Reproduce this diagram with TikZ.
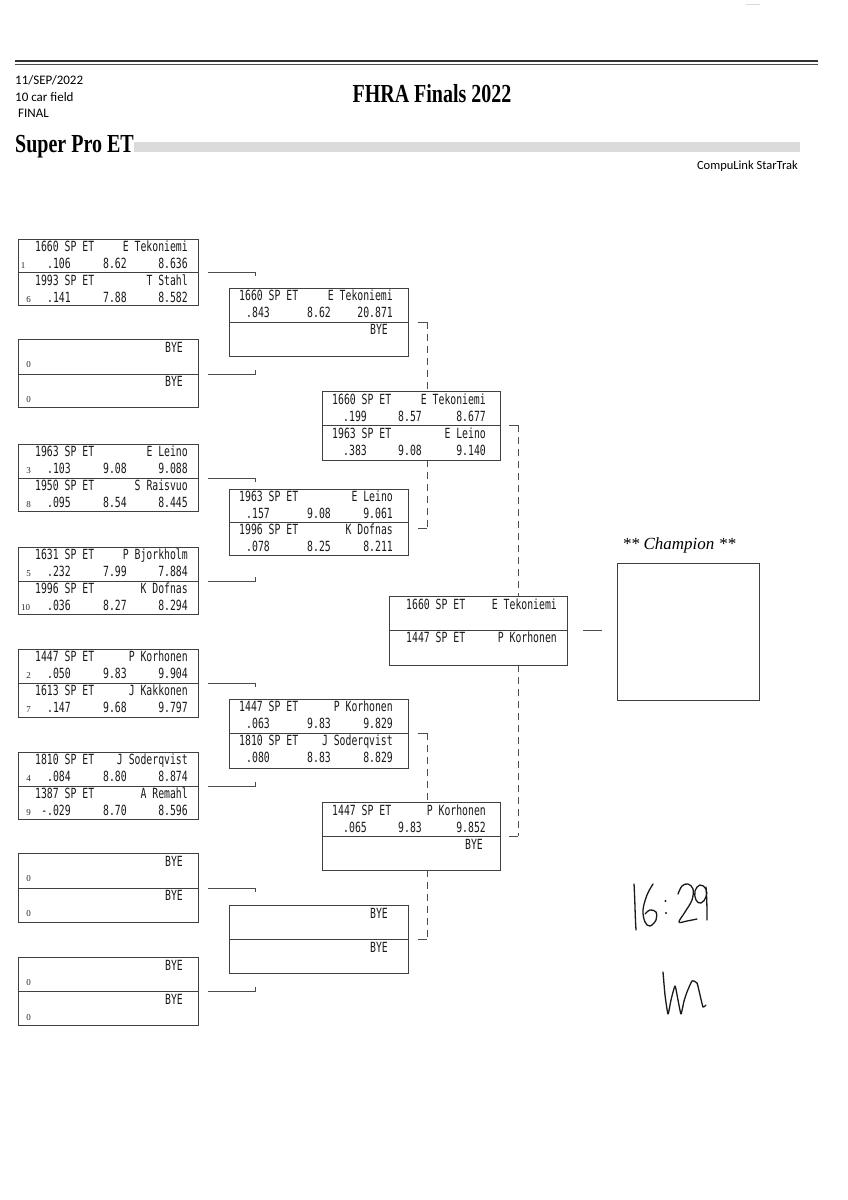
\documentclass[tikz,border=0pt]{standalone}
\usepackage{graphicx}
\usepackage{fontspec}
\setmainfont{Liberation Serif}
\newfontfamily\monof[FakeStretch=0.7]{DejaVu Sans Mono}
\newfontfamily\hdrf{Carlito}
\newfontfamily\seedf{Liberation Serif}
\tikzset{
  bx/.style={draw=black!75, line width=0.9pt, fill=white, inner sep=0pt, outer sep=0pt},
  dv/.style={draw=black!75, line width=0.9pt},
  cn/.style={draw=black!70, line width=0.8pt},
  dcn/.style={draw=black!70, line width=0.8pt, dash pattern=on 7pt off 5pt},
  tx/.style={font=\monof\fontsize{14}{14}\selectfont, text=black!90, inner sep=0pt},
  sd/.style={font=\seedf\fontsize{9}{9}\selectfont, text=black!85, inner sep=0pt, anchor=base},
  hd/.style={font=\hdrf\fontsize{13}{13}\selectfont, text=black, inner sep=0pt},
  hw/.style={draw=black!90, line width=1.3pt, line cap=round, line join=round},
}
\newcommand\ebox[6]{%
  \node[bx, anchor=north west, minimum width={(#4-#2)*1pt}, minimum height={(#5-#3)*1pt}] (#1) at (#2,#3) {};
  \coordinate (#1m) at (#4,#6);
  \draw[dv] (#1.west |- #1m) -- (#1m);}
\newcommand\lineA[6]{%
  \node[tx,anchor=base west] (#1c) at (#3,#2) {#5};
  \node[tx,anchor=base east] (#1n) at (#4,#2) {#6};}
\newcommand\lineB[8]{%
  \node[tx,anchor=base east] (#1r) at (#3,#2) {#6};
  \node[tx,anchor=base east] (#1e) at (#4,#2) {#7};
  \node[tx,anchor=base east] (#1t) at (#5,#2) {#8};}
\newcommand\byeat[3]{\node[tx,anchor=base east] (#1) at (#2,#3) {BYE};}
\newcommand\seedat[4]{\node[sd] (#1) at (#2,#3) {#4};}
\newcommand\oA[4]{\lineA{#1}{#2}{35}{188}{#3}{#4}}
\newcommand\oB[5]{\lineB{#1}{#2}{71}{127}{188}{#3}{#4}{#5}}
\newcommand\tA[4]{\lineA{#1}{#2}{239}{393}{#3}{#4}}
\newcommand\tB[5]{\lineB{#1}{#2}{270}{331}{393}{#3}{#4}{#5}}
\newcommand\hA[4]{\lineA{#1}{#2}{332}{486}{#3}{#4}}
\newcommand\hB[5]{\lineB{#1}{#2}{367}{422}{486}{#3}{#4}{#5}}
\newcommand\cdn[1]{\draw[cn] ([xshift=10pt]#1m) -- ++(47,0) -- ++(0,4);}
\newcommand\cupp[1]{\draw[cn] ([xshift=10pt]#1m) -- ++(47,0) -- ++(0,-4);}
\begin{document}
\begin{tikzpicture}[x=1pt,y=-1pt]
\useasboundingbox (0,0) rectangle (848,1200);
\fill[white] (0,0) rectangle (848,1200);
% header
\draw[black!15, line width=0.6pt] (746,4) -- (760,4);
\draw[black!80, line width=1.8pt] (15,61) -- (818,61);
\draw[black!70, line width=0.6pt] (15,64) -- (818,64);
\node[hd, anchor=base west] (date) at (15,84) {11/SEP/2022};
\node[hd, anchor=base west] (field) at (15,101.5) {10 car field};
\node[hd, anchor=base west] (fin0) at (18,117) {FINAL};
\node[font=\bfseries\fontsize{20}{20}\selectfont, anchor=base, inner sep=0pt] (title) at (432,102) {\scalebox{1}[1.3]{FHRA Finals 2022}};
\node[font=\bfseries\fontsize{20}{20}\selectfont, anchor=base west, inner sep=0pt] (cls) at (15,152) {\scalebox{1}[1.3]{Super Pro ET}};
\fill[black!14] (134,142) rectangle (800,152);
\node[font=\hdrf\fontsize{12.5}{12.5}\selectfont, anchor=base east, inner sep=0pt] (soft) at (798,169) {CompuLink StarTrak};
% column 1 boxes
\ebox{b1}{18}{239}{198}{305}{272}
\oA{b1a}{251}{1660 SP ET}{E Tekoniemi}
\seedat{b1s}{23}{268}{1}\oB{b1b}{268}{.106}{8.62}{8.636}
\oA{b1c}{285}{1993 SP ET}{T Stahl}
\seedat{b1t}{28.5}{302}{6}\oB{b1d}{302}{.141}{7.88}{8.582}
\ebox{b2}{18}{339}{198}{407}{374}
\byeat{b2a}{183}{352}\seedat{b2s}{28.5}{367}{0}
\byeat{b2b}{183}{386}\seedat{b2t}{28.5}{402}{0}
\ebox{b3}{18}{444}{198}{511}{478}
\oA{b3a}{456}{1963 SP ET}{E Leino}
\seedat{b3s}{28.5}{473}{3}\oB{b3b}{473}{.103}{9.08}{9.088}
\oA{b3c}{490}{1950 SP ET}{S Raisvuo}
\seedat{b3t}{28.5}{507}{8}\oB{b3d}{507}{.095}{8.54}{8.445}
\ebox{b4}{18}{547}{198}{614}{581}
\oA{b4a}{559}{1631 SP ET}{P Bjorkholm}
\seedat{b4s}{28.5}{576}{5}\oB{b4b}{576}{.232}{7.99}{7.884}
\oA{b4c}{593}{1996 SP ET}{K Dofnas}
\seedat{b4t}{25.5}{610}{10}\oB{b4d}{610}{.036}{8.27}{8.294}
\ebox{b5}{18}{649}{198}{717}{683}
\oA{b5a}{661}{1447 SP ET}{P Korhonen}
\seedat{b5s}{28.5}{678}{2}\oB{b5b}{678}{.050}{9.83}{9.904}
\oA{b5c}{695}{1613 SP ET}{J Kakkonen}
\seedat{b5t}{28.5}{712}{7}\oB{b5d}{712}{.147}{9.68}{9.797}
\ebox{b6}{18}{752}{198}{819}{786}
\oA{b6a}{764}{1810 SP ET}{J Soderqvist}
\seedat{b6s}{28.5}{781}{4}\oB{b6b}{781}{.084}{8.80}{8.874}
\oA{b6c}{798}{1387 SP ET}{A Remahl}
\seedat{b6t}{28.5}{815}{9}\oB{b6d}{815}{-.029}{8.70}{8.596}
\ebox{b7}{18}{853}{198}{922}{888}
\byeat{b7a}{183}{866}\seedat{b7s}{28.5}{881}{0}
\byeat{b7b}{183}{900}\seedat{b7t}{28.5}{916}{0}
\ebox{b8}{18}{957}{198}{1025}{991}
\byeat{b8a}{183}{970}\seedat{b8s}{28.5}{985}{0}
\byeat{b8b}{183}{1004}\seedat{b8t}{28.5}{1020}{0}
% column 1 connectors
\cdn{b1}\cupp{b2}\cdn{b3}\cupp{b4}\cdn{b5}\cupp{b6}\cdn{b7}\cupp{b8}
% column 2 boxes
\ebox{c21}{229}{288}{408}{356}{322}
\tA{c21a}{300}{1660 SP ET}{E Tekoniemi}
\tB{c21b}{317}{.843}{8.62}{20.871}
\byeat{c21c}{388}{334}
\ebox{c22}{229}{489}{408}{555}{522}
\tA{c22a}{501}{1963 SP ET}{E Leino}
\tB{c22b}{518}{.157}{9.08}{9.061}
\tA{c22c}{534}{1996 SP ET}{K Dofnas}
\tB{c22d}{551}{.078}{8.25}{8.211}
\ebox{c23}{229}{699}{408}{768}{733}
\tA{c23a}{711}{1447 SP ET}{P Korhonen}
\tB{c23b}{728}{.063}{9.83}{9.829}
\tA{c23c}{745}{1810 SP ET}{J Soderqvist}
\tB{c23d}{762}{.080}{8.83}{8.829}
\ebox{c24}{229}{905}{408}{973}{939}
\byeat{c24a}{388}{918}
\byeat{c24b}{388}{952}
% column 3 boxes
\ebox{c31}{322}{391}{500}{460}{425}
\hA{c31a}{404}{1660 SP ET}{E Tekoniemi}
\hB{c31b}{421}{.199}{8.57}{8.677}
\hA{c31c}{438}{1963 SP ET}{E Leino}
\hB{c31d}{455}{.383}{9.08}{9.140}
\ebox{c32}{322}{802}{500}{870}{836}
\hA{c32a}{815}{1447 SP ET}{P Korhonen}
\hB{c32b}{832}{.065}{9.83}{9.852}
\byeat{c32c}{483}{849}
% final
\ebox{fin}{389}{596}{567}{665}{630}
\lineA{fina}{609}{406}{557}{1660 SP ET}{E Tekoniemi}
\lineA{finb}{642}{406}{557}{1447 SP ET}{P Korhonen}
% column 2 -> 3 connectors
\draw[cn] ([xshift=10pt]c21m) -- ++(9,0) coordinate (k1);
\draw[dcn] (k1) -- (k1 |- c31.north);
\coordinate (k2) at ([xshift=19pt,yshift=-6pt]c22m);
\draw[cn] (k2) -- ++(-9,0);
\draw[dcn] (c31.south -| k2) -- (k2);
\draw[cn] ([xshift=10pt]c23m) -- ++(9,0) coordinate (k3);
\draw[dcn] (k3) -- (k3 |- c32.north);
\coordinate (k4) at ([xshift=19pt]c24m);
\draw[cn] (k4) -- ++(-9,0);
\draw[dcn] (c32.south -| k4) -- (k4);
% column 3 -> final
\draw[cn] ([xshift=9pt]c31m) -- ++(9,0) coordinate (k5);
\draw[dcn] (k5) -- (k5 |- fin.north);
\coordinate (k6) at ([xshift=18pt]c32m);
\draw[cn] (k6) -- ++(-9,0);
\draw[dcn] (fin.south -| k6) -- (k6);
% champion
\node[bx, anchor=north west, minimum width=142pt, minimum height=137pt] (champ) at (617,563) {};
\node[font=\itshape\fontsize{17}{17}\selectfont, anchor=base, inner sep=0pt] (champl) at (679,549) {** Champion **};
\draw[cn] ([xshift=16pt]finm) -- ([xshift=-15pt]finm -| champ.west);
% handwriting
\draw[hw] (634,884) .. controls (635,900) and (635,915) .. (636,930);
\draw[hw] plot[smooth, tension=0.6] coordinates {(653,884) (647,895) (643,910) (645,922) (650,926) (656,920) (656,912) (650,910) (645,914)};
\fill[black!90] (665.5,901) circle (1.1pt) (666,913) circle (1.1pt);
\draw[hw] plot[smooth, tension=0.6] coordinates {(678,894) (682,886) (688,884) (693,889) (692,900) (685,912) (679,922) (687,921) (697,919)};
\draw[hw] plot[smooth cycle, tension=0.7] coordinates {(706,889) (700,885) (695,891) (696,900) (701,903) (706,897)};
\draw[hw] (706,887) .. controls (707,900) and (707,910) .. (707,920);
\draw[hw] plot[smooth, tension=0.3] coordinates {(663,972) (665,995) (668,1014) (671,1000) (675,986) (678,1000) (681,1014) (684,1001) (687,992) (692,981) (697,983) (700,995) (703,1007) (706,1005)};
\end{tikzpicture}
\end{document}
